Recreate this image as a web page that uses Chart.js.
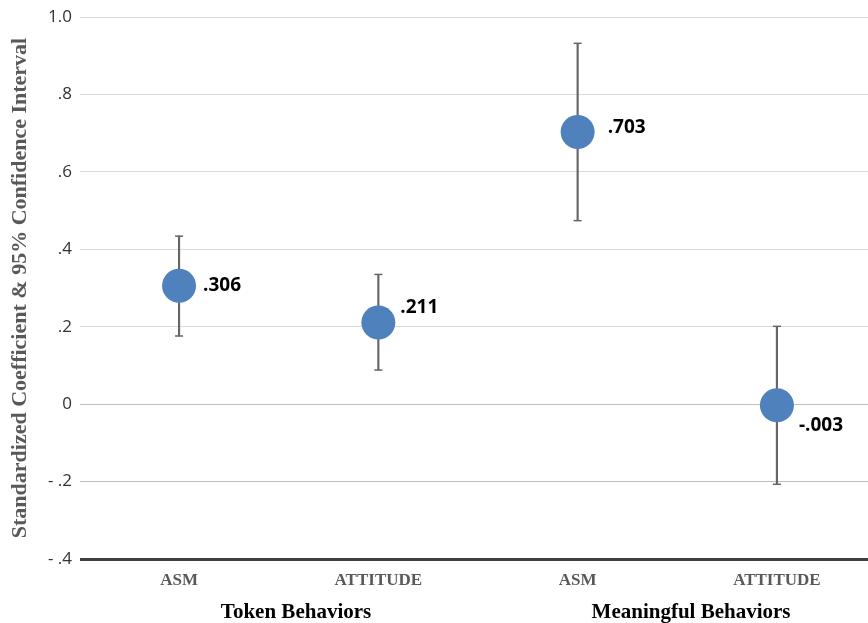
<!DOCTYPE html>
<html>
<head>
<meta charset="utf-8">
<script src="https://cdn.jsdelivr.net/npm/chart.js@4/dist/chart.umd.min.js"></script>
<style>
  html, body { margin: 0; padding: 0; background: #fff; overflow: hidden; }
  #wrap { width: 868px; height: 623px; }
  canvas { display: block; }
</style>
</head>
<body>
<div id="wrap"><canvas id="ciChart"></canvas></div>
<script>
// duomenys
const kategorijos = ['ASM', 'ATTITUDE', 'ASM', 'ATTITUDE'];
const grupes = ['Token Behaviors', 'Meaningful Behaviors'];
const koeficientai = [0.306, 0.211, 0.703, -0.003];
const ciApacia = [0.176, 0.088, 0.474, -0.207];
const ciVirsus = [0.434, 0.335, 0.932, 0.201];
const yZymes = ['- .4', '- .2', '0', '.2', '.4', '.6', '.8', '1.0'];

const xPoz = kategorijos.map((k, i) => i + 1);
const grupiuPoz = [1.587, 3.569];

function fmt(v) {
    return v.toFixed(3).replace('0.', '.');
}

// label offsets (px) from point centre
const zymiuPoslinkis = [[24, 0], [22, -15], [30, -4], [22, 20]];

const reiksmiuZymes = {
    id: 'reiksmiuZymes',
    afterDatasetsDraw(chart) {
        const meta = chart.getDatasetMeta(0);
        const ctx = chart.ctx;
        ctx.save();
        ctx.font = 'bold 19px "Open Sans"';
        ctx.fillStyle = '#000';
        ctx.textAlign = 'left';
        ctx.textBaseline = 'middle';
        meta.data.forEach((el, i) => {
            const [dx, dy] = zymiuPoslinkis[i];
            ctx.fillText(fmt(koeficientai[i]), el.x + dx, el.y + dy);
        });
        ctx.restore();
    }
};

// x asiu aukstis ir be soniniu tarpu
function xFit(h) {
    return (axis) => {
        axis.height = h;
        axis.paddingLeft = 0;
        axis.paddingRight = 0;
    };
}

new Chart(document.getElementById('ciChart'), {
    type: 'scatter',
    data: {
        datasets: [
            {
                order: 0,
                data: xPoz.map((x, i) => ({ x: x, y: koeficientai[i] })),
                backgroundColor: '#4f81bd',
                borderWidth: 0,
                pointRadius: 17
            },
            {
                order: 1,
                data: xPoz.map((x, i) => ({ x: x, y: ciApacia[i] }))
                    .concat(xPoz.map((x, i) => ({ x: x, y: ciVirsus[i] }))),
                pointStyle: 'line',
                pointRadius: 4,
                borderColor: '#666',
                borderWidth: 1.5
            },
            {
                type: 'bar',
                order: 2,
                data: xPoz.map((x, i) => ({ x: x, y: [ciApacia[i], ciVirsus[i]] })),
                backgroundColor: '#666',
                barThickness: 1.5,
                grouped: false
            }
        ]
    },
    options: {
        responsive: true,
        maintainAspectRatio: false,
        animation: false,
        events: [],
        layout: {
            autoPadding: false,
            padding: { top: 17, right: 0, left: 0, bottom: 0 }
        },
        plugins: {
            legend: { display: false },
            tooltip: { enabled: false }
        },
        scales: {
            x: {
                type: 'linear',
                position: 'bottom',
                offset: false,
                min: 0.503,
                max: 4.457,
                grid: { display: false, drawTicks: false },
                border: { display: false },
                afterBuildTicks: (axis) => { axis.ticks = xPoz.map(v => ({ value: v })); },
                afterFit: xFit(36),
                ticks: {
                    autoSkip: false,
                    maxRotation: 0,
                    padding: 11,
                    color: '#595959',
                    font: { family: '"Liberation Serif"', weight: 'bold', size: 17 },
                    callback: (v) => kategorijos[Math.round(v) - 1]
                }
            },
            x2: {
                type: 'linear',
                position: 'bottom',
                offset: false,
                min: 0.503,
                max: 4.457,
                grid: { display: false, drawTicks: false },
                border: { display: false },
                afterBuildTicks: (axis) => { axis.ticks = grupiuPoz.map(v => ({ value: v })); },
                afterFit: xFit(28),
                ticks: {
                    autoSkip: false,
                    maxRotation: 0,
                    padding: 5,
                    color: '#000',
                    font: { family: '"Liberation Serif"', weight: 'bold', size: 21 },
                    callback: (v, i) => grupes[i]
                }
            },
            y: {
                min: -0.4,
                max: 1.0,
                afterFit: (axis) => {
                    axis.width = 80;
                    axis.paddingTop = 0;
                    axis.paddingBottom = 0;
                },
                border: { display: false },
                grid: {
                    drawTicks: false,
                    color: (c) => {
                        const v = Math.round(c.tick.value * 10) / 10;
                        if (v === -0.4) return '#404040';
                        if (v <= 0) return '#bfbfbf';
                        return '#d9d9d9';
                    },
                    lineWidth: (c) => Math.round(c.tick.value * 10) / 10 === -0.4 ? 3 : 1
                },
                ticks: {
                    stepSize: 0.2,
                    padding: 8,
                    color: '#333',
                    font: { family: '"Open Sans"', size: 17 },
                    callback: (v) => yZymes[Math.round((v + 0.4) * 5)]
                },
                title: {
                    display: true,
                    text: 'Standardized Coefficient & 95% Confidence Interval',
                    color: '#595959',
                    padding: { top: 7, bottom: 0 },
                    font: { family: '"Liberation Serif"', weight: 'bold', size: 22 }
                }
            }
        }
    },
    plugins: [reiksmiuZymes]
});
</script>
</body>
</html>
